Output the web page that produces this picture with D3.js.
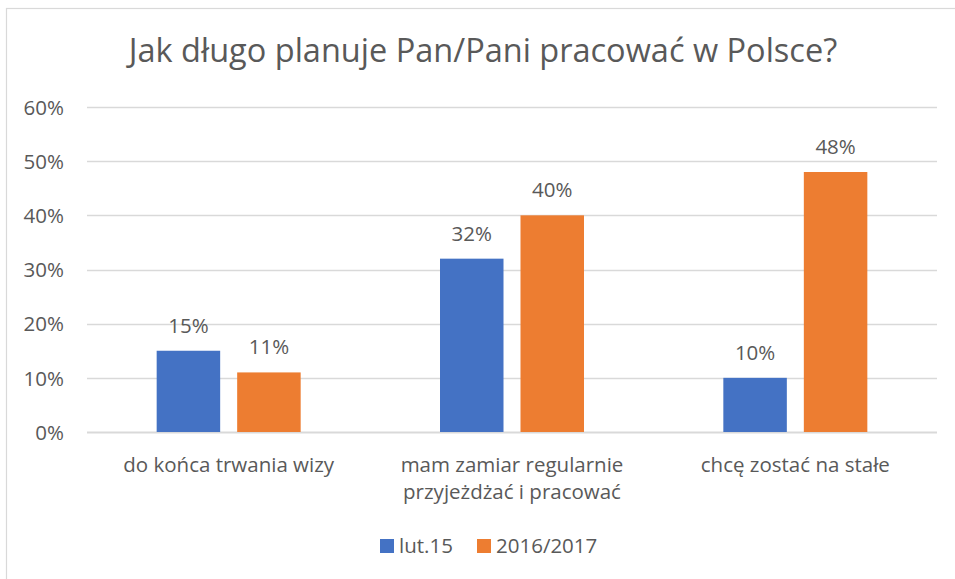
<!DOCTYPE html>
<html>
<head>
<meta charset="utf-8">
<script src="https://cdn.jsdelivr.net/npm/d3@7"></script>
<style>
  body { margin: 0; background: #fff; }
  text { font-family: "Open Sans", sans-serif; fill: #595959; }
</style>
</head>
<body>
<div id="chart"></div>
<script>
// Data:
var categories = ["do końca trwania wizy", "mam zamiar regularnie\nprzyjeżdżać i pracować", "chcę zostać na stałe"];
var seriesNames = ["lut.15", "2016/2017"];
var lut15 = [0.15, 0.32, 0.10];
var y2016 = [0.11, 0.40, 0.48];
var yTicks = [0, 0.1, 0.2, 0.3, 0.4, 0.5, 0.6];
var colors = ["#4472c4", "#ed7d31"];

var W = 955, H = 579;
var margin = { top: 107, right: 18, bottom: 147, left: 87 },
    width = W - margin.left - margin.right,
    height = H - margin.top - margin.bottom;

var root = d3.select("#chart").append("svg")
  .attr("width", W).attr("height", H);

// chart border (right/bottom edges fall off the picture)
root.append("rect")
  .attr("x", 6.5).attr("y", 8.5)
  .attr("width", W + 20).attr("height", H + 20)
  .attr("fill", "none").attr("stroke", "#d9d9d9").attr("stroke-width", 1.2);

root.append("text")
  .attr("x", 483).attr("y", 62)
  .attr("text-anchor", "middle")
  .style("font-size", "32.5px")
  .text("Jak długo planuje Pan/Pani pracować w Polsce?");

var svg = root.append("g")
  .attr("transform", "translate(" + margin.left + "," + margin.top + ")");

// Scales:
var x0 = d3.scaleBand().domain(categories).range([0, width]).paddingInner(0).paddingOuter(0);
var y = d3.scaleLinear().domain([0, 0.6]).range([height, 0]);
var barW = 63.5, gap = 17;

// gridlines
svg.selectAll(".grid").data(yTicks).enter().append("line")
  .attr("x1", 0).attr("x2", width)
  .attr("y1", function(d) { return Math.round(y(d)) + 0.5; })
  .attr("y2", function(d) { return Math.round(y(d)) + 0.5; })
  .attr("stroke", "#d9d9d9").attr("stroke-width", function(d) { return d === 0 ? 2 : 1.3; });

// y axis labels
var yAxis = d3.axisLeft(y).tickValues(yTicks).tickFormat(d3.format(".0%")).tickSize(0).tickPadding(23);
var ya = svg.append("g").call(yAxis);
ya.select(".domain").remove();
ya.selectAll("text").style("font-size", "20.5px").attr("fill", "#595959").attr("dy", "0.35em");

// bars
var series = [lut15, y2016];
series.forEach(function(vals, si) {
  var g = svg.append("g");
  g.selectAll("rect").data(vals).enter().append("rect")
    .attr("x", function(d, i) {
      var c = x0(categories[i]) + x0.bandwidth() / 2;
      return si === 0 ? c - gap / 2 - barW : c + gap / 2;
    })
    .attr("y", function(d) { return y(d); })
    .attr("width", barW)
    .attr("height", function(d) { return height - y(d); })
    .attr("fill", colors[si]);
  g.selectAll("text").data(vals).enter().append("text")
    .attr("x", function(d, i) {
      var c = x0(categories[i]) + x0.bandwidth() / 2;
      return si === 0 ? c - gap / 2 - barW / 2 : c + gap / 2 + barW / 2;
    })
    .attr("y", function(d) { return y(d) - 18; })
    .attr("text-anchor", "middle")
    .style("font-size", "20.5px")
    .text(function(d) { return d3.format(".0%")(d); });
});

// category labels
categories.forEach(function(c) {
  var lines = c.split("\n");
  var t = svg.append("text")
    .attr("x", x0(c) + x0.bandwidth() / 2)
    .attr("y", height + 40)
    .attr("text-anchor", "middle")
    .style("font-size", "20.5px");
  lines.forEach(function(l, i) {
    t.append("tspan").attr("x", x0(c) + x0.bandwidth() / 2).attr("dy", i === 0 ? 0 : 26.5).text(l);
  });
});

// legend
var legend = root.append("g");
var lx = [380, 477];
seriesNames.forEach(function(n, i) {
  legend.append("rect").attr("x", lx[i]).attr("y", 539).attr("width", 14).attr("height", 14).attr("fill", colors[i]);
  legend.append("text").attr("x", lx[i] + 19).attr("y", 553).style("font-size", "20.5px").text(n);
});
</script>
</body>
</html>
